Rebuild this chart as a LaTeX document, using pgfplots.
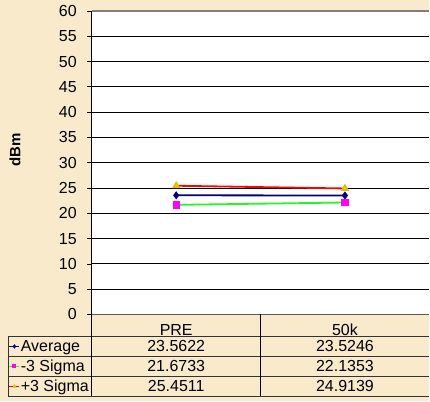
\documentclass[border=0pt]{standalone}
\usepackage{pgfplots}
\pgfplotsset{compat=1.18}
\usepackage{fontspec}
\setmainfont{Liberation Sans}
\definecolor{parch}{RGB}{249,234,204}
\definecolor{navyline}{RGB}{0,0,128}
\definecolor{grn}{RGB}{40,245,40}
\definecolor{mag}{RGB}{255,0,255}
\definecolor{ylw}{RGB}{255,230,0}
\newcommand\tf{\fontsize{16bp}{18bp}\selectfont}
\begin{document}
\begin{tikzpicture}
\fill[parch] (0,0) rectangle (430bp,402bp);
\begin{axis}[at={(92bp,87bp)},anchor=south west,scale only axis,
  width=338bp,height=304bp,
  xmin=0,xmax=2,ymin=0,ymax=60,
  ytick={0,5,...,60},xtick={0.5,1.5},xticklabels={PRE,50k},
  axis x line=bottom,axis y line=left,axis line style={-},
  x axis line style={black!65,line width=1.4bp},
  y axis line style={black,line width=1bp},
  axis background/.style={fill=white},
  tick align=outside,major tick length=5bp,
  xtick style={draw=none},ytick style={black,line width=0.8bp},
  ymajorgrids,major grid style={black,line width=0.9bp},
  /pgf/number format/assume math mode=true,
  tick label style={font=\tf},
  yticklabel style={anchor=east,inner sep=0pt,xshift=-10bp},
  xticklabel style={anchor=base,inner sep=0pt,yshift=-16.5bp},
  ylabel={\bfseries dBm},
  ylabel style={at={(axis description cs:-0.228,0.543)},anchor=center,font=\fontsize{15bp}{18bp}\selectfont},
  clip=false,
  legend style={at={(axis description cs:-0.2456,-0.0724)},anchor=north west,
    draw=none,fill=none,inner sep=0pt,outer sep=0pt,row sep=0pt,
    font=\tf,nodes={inner sep=0pt,text height=15bp,text depth=5bp,anchor=west}},
  legend cell align=left,
  legend image code/.code={\draw[mark repeat=2,mark phase=2,#1,line width=1bp,mark size=1.5bp]
    plot coordinates {(0bp,0bp)(5bp,0bp)(10bp,0bp)};\path (10.5bp,0bp);},
]
\addplot[navyline,line width=1.8bp,mark=diamond*,mark size=2.6bp,mark options={fill=navyline}]
  coordinates {(0.5,23.5622)(1.5,23.5246)};
\addlegendentry{Average}
\addplot[grn,line width=1.8bp,mark=square*,mark size=2.8bp,mark options={draw=mag,fill=mag}]
  coordinates {(0.5,21.6733)(1.5,22.1353)};
\addlegendentry{-3 Sigma}
\addplot[red,line width=1.8bp,mark=triangle*,mark size=3bp,mark options={draw=ylw!85!black,fill=ylw}]
  coordinates {(0.5,25.4511)(1.5,24.9139)};
\addlegendentry{+3 Sigma}
\end{axis}
\begin{scope}[x=1bp,y=1bp]
  % plot area top border
  \draw[black!50,line width=1.4bp] (92,391) -- (430,391);
  % data table
  \draw[black!80,line width=0.9bp] (8,65) -- (430,65) (8,45) -- (430,45)
    (8,25) -- (430,25) (8,5) -- (430,5) (8,5) -- (8,65);
  \draw[black,line width=1bp] (92,87) -- (92,5) (261,87) -- (261,5);
  \foreach \yb/\a/\b in {50/23.5622/23.5246,30/21.6733/22.1353,10/25.4511/24.9139}{
    \node[anchor=base,inner sep=0pt,font=\tf] at (176.5,\yb) {\a};
    \node[anchor=base,inner sep=0pt,font=\tf] at (345.5,\yb) {\b};
  }
\end{scope}
\end{tikzpicture}
\end{document}
